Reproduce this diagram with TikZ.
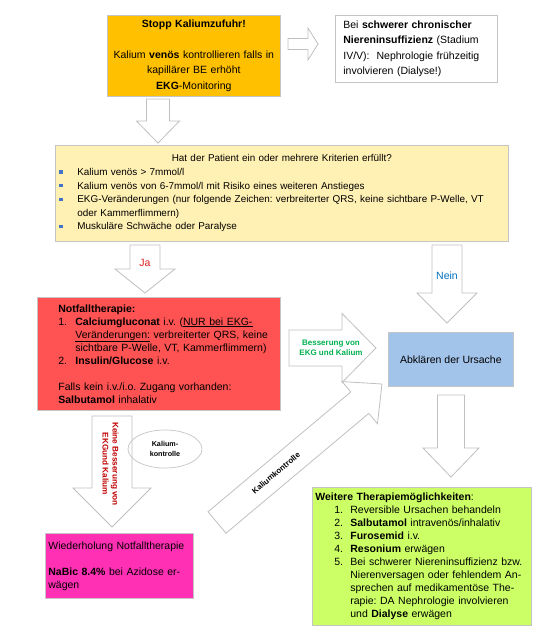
\documentclass[tikz,border=0pt]{standalone}
\usepackage{fontspec}
\setmainfont{Liberation Sans}
\usepackage{tikz}
\usetikzlibrary{calc,shapes.geometric}

\definecolor{boxline}{HTML}{C4C4C4}
\definecolor{arrline}{HTML}{C0C0C0}
\definecolor{stoppfill}{HTML}{FFC000}
\definecolor{fragefill}{HTML}{FFF0B3}
\definecolor{notfallfill}{HTML}{FF5252}
\definecolor{ursachefill}{HTML}{A3C4EA}
\definecolor{wdhfill}{HTML}{FF30B4}
\definecolor{weiterfill}{HTML}{CCFF66}
\definecolor{bulblue}{HTML}{4472C4}
\definecolor{jared}{HTML}{E02020}
\definecolor{neinblue}{HTML}{0070C0}
\definecolor{bessgreen}{HTML}{00B050}
\definecolor{keinered}{HTML}{C00000}

\newcommand{\boxfont}{\fontsize{10.5}{13}\selectfont}
\newcommand{\topfont}{\fontsize{10.5}{15.3}\selectfont}
\newcommand{\fragefont}{\fontsize{9.9}{13.6}\selectfont}
\newcommand{\bul}{\makebox[18pt][l]{\textcolor{bulblue}{\raisebox{2pt}{\rule{3.2pt}{3.2pt}}}}}
\newcommand{\numit}[1]{\hspace*{17pt}\makebox[17pt][l]{#1}}
\newcommand{\numgr}[1]{\hspace*{19pt}\makebox[16pt][l]{#1}}

\newcommand{\blockarrow}[5]{%
  \path let \p1=(#1), \p2=(#2) in \pgfextra{%
    \pgfmathsetmacro{\baang}{atan2(\y2-\y1,\x2-\x1)}%
    \pgfmathsetmacro{\balen}{veclen(\x2-\x1,\y2-\y1)}%
    \xdef\arrang{\baang}\xdef\arrlen{\balen}};
  \draw[blockarr, shift={(#1)}, rotate=\arrang]
    (0,#3/2) -- ({\arrlen-#5},#3/2) -- ({\arrlen-#5},#4/2) -- (\arrlen,0)
    -- ({\arrlen-#5},-#4/2) -- ({\arrlen-#5},-#3/2) -- (0,-#3/2) -- cycle;}

\begin{document}
\frenchspacing
\begin{tikzpicture}[x=1pt, y=-1pt,
  box/.style={draw=boxline, line width=0.7pt, anchor=north west, inner ysep=0pt, font=\boxfont},
  blockarr/.style={draw=arrline, fill=white, line width=0.8pt, line join=miter},
  smallbold/.style={font=\fontsize{#1}{10}\selectfont\bfseries, align=center}]
	\useasboundingbox (0,0) rectangle (549,633);

	\node[box, fill=stoppfill, inner xsep=4pt, text width=165, minimum height=81, align=center, font=\topfont] (stopp) at (107,15)
		{\textbf{Stopp Kaliumzufuhr!}\\[15.3pt]
		Kalium \textbf{venös} kontrollieren falls in\\
		kapillärer BE erhöht\\
		\textbf{EKG}-Monitoring};
	\node[box, fill=white, inner xsep=8pt, text width=146, minimum height=67, align=left, font=\topfont] (niere) at (335,15)
		{Bei \textbf{schwerer chronischer}\\
		\textbf{Niereninsuffizienz} (Stadium\\
		IV/V):\ \ Nephrologie frühzeitig\\
		involvieren (Dialyse!)};
	\node[box, fill=fragefill, inner xsep=4pt, text width=445, minimum height=96, align=left, font=\fragefont] (frage) at (55,145)
		{\makebox[445pt][c]{Hat der Patient ein oder mehrere Kriterien erfüllt?}\\
		\bul Kalium venös > 7mmol/l\\
		\bul Kalium venös von 6-7mmol/l mit Risiko eines weiteren Anstieges\\
		\bul \mbox{EKG-Veränderungen (nur folgende Zeichen: verbreiterter QRS, keine sichtbare P-Welle, VT}\\
		\hspace*{18pt}oder Kammerflimmern)\\
		\bul Muskuläre Schwäche oder Paralyse};
	\node[box, fill=notfallfill, inner xsep=4pt, text width=235, minimum height=113, align=left] (notfall) at (37,297)
		{\hspace*{17pt}\textbf{Notfalltherapie:}\\
		\numit{1.}\textbf{Calciumgluconat} i.v. (\underline{NUR bei EKG-}\\
		\hspace*{34pt}\underline{Veränderungen:} verbreiterter QRS, keine\\
		\hspace*{34pt}sichtbare P-Welle, VT, Kammerflimmern)\\
		\numit{2.}\textbf{Insulin/Glucose} i.v.\\[13pt]
		\hspace*{17pt}Falls kein i.v./i.o. Zugang vorhanden:\\
		\hspace*{17pt}\textbf{Salbutamol} inhalativ};
	\node[box, fill=ursachefill, minimum width=125, minimum height=54] (ursache) at (388,332) {Abklären der Ursache};
	\node[box, fill=wdhfill, inner xsep=3pt, text width=142, minimum height=65, align=left] (wdh) at (45,533)
		{Wiederholung Notfalltherapie\\[13pt]
		\textbf{NaBic 8.4\%} bei Azidose er-\\
		wägen};
	\node[box, fill=weiterfill, inner xsep=3pt, text width=213, minimum height=138, align=left] (weiter) at (312,487)
		{\textbf{Weitere Therapiemöglichkeiten}:\\
		\numgr{1.}Reversible Ursachen behandeln\\
		\numgr{2.}\textbf{Salbutamol} intravenös/inhalativ\\
		\numgr{3.}\textbf{Furosemid} i.v.\\
		\numgr{4.}\textbf{Resonium} erwägen\\
		\numgr{5.}Bei schwerer Niereninsuffizienz bzw.\\
		\hspace*{35pt}Nierenversagen oder fehlendem An-\\
		\hspace*{35pt}sprechen auf medikamentöse The-\\
		\hspace*{35pt}rapie: DA Nephrologie involvieren\\
		\hspace*{35pt}und \textbf{Dialyse} erwägen};

	\coordinate (a1s) at (288,44);
	\coordinate (a1e) at (318,44);
	\coordinate (a2s) at (158,99);
	\coordinate (a2e) at (158,143);
	\coordinate (jas) at (145,245);
	\coordinate (jae) at (145,293);
	\coordinate (neins) at (447,245);
	\coordinate (neine) at (447,323);
	\coordinate (kals) at (217,522.5);
	\coordinate (kale) at (382,384);
	\coordinate (bess) at (289,348);
	\coordinate (bese) at (376,348);
	\coordinate (keins) at (112,416);
	\coordinate (keine) at (112,527);
	\coordinate (weits) at (451,395);
	\coordinate (weite) at (451,477);

	\blockarrow{a1s}{a1e}{11}{32}{10}
	\blockarrow{a2s}{a2e}{23}{43}{22}
	\blockarrow{jas}{jae}{30}{60}{24}
	\blockarrow{neins}{neine}{30}{60}{30}
	\blockarrow{kals}{kale}{28}{55}{29}
	\blockarrow{bess}{bese}{36}{69}{34}
	\blockarrow{keins}{keine}{40}{78}{39}
	\blockarrow{weits}{weite}{27}{56}{29}

	\node[font=\boxfont, text=jared] (ja) at (145,263) {Ja};
	\node[font=\boxfont, text=neinblue] (nein) at (447,276) {Nein};
	\node[smallbold=8, text=bessgreen] (besstxt) at (331,348) {Besserung von\\EKG und Kalium};
	\node[smallbold=8.2, text=keinered, rotate=-90] (keinetxt) at (110.5,464) {Keine Besserung von\\EKGund Kalium};
	\node[smallbold=7.9, rotate=40] (kaltxt) at (276,473) {Kaliumkontrolle};
	\node[draw=boxline, line width=0.7pt, ellipse, minimum width=74, minimum height=38, inner sep=0pt, smallbold=7.2] (kalell) at (165,449) {Kalium-\\kontrolle};
\end{tikzpicture}
\end{document}
